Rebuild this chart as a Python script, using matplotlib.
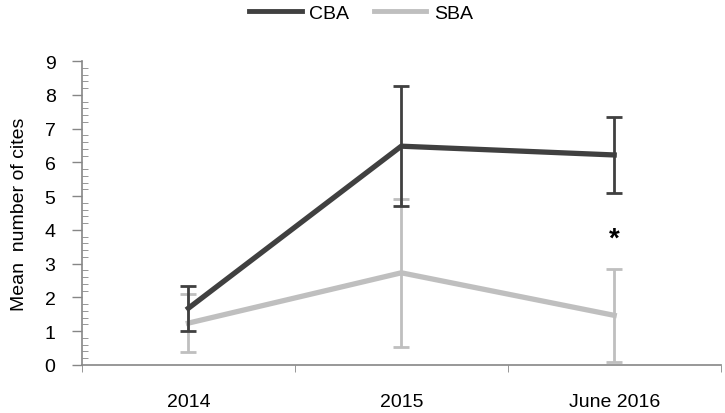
import numpy as np
import matplotlib.pyplot as plt
from matplotlib.ticker import MultipleLocator, FixedLocator
from matplotlib.lines import Line2D

plt.rcParams['font.family'] = ['Liberation Sans', 'DejaVu Sans']

categories = ['2014', '2015', 'June 2016']
cba_mean = [1.68, 6.48, 6.22]
cba_err = [0.66, 1.77, 1.13]
sba_mean = [1.24, 2.73, 1.47]
sba_err = [0.85, 2.2, 1.38]
star_y = 3.75

dark = '#404040'
light = '#bfbfbf'
axis_grey = '#868686'
fs = 14

x = np.arange(len(categories))

fig = plt.figure(figsize=(7.25, 4.14), dpi=100)
ax = fig.add_axes([0.113, 0.116, 0.881, 0.734])

ax.errorbar(x, sba_mean, yerr=sba_err, color=light, lw=3.8, elinewidth=2,
            capsize=6, capthick=2, zorder=2)
ax.errorbar(x, cba_mean, yerr=cba_err, color=dark, lw=3.8, elinewidth=2,
            capsize=6, capthick=2, zorder=3)

ax.text(x[2], star_y, '*', ha='center', va='center', fontsize=20, fontweight='bold')

ax.set_xlim(-0.5, 2.5)
ax.set_ylim(0, 9)
ax.set_xticks(x)
ax.set_xticklabels(categories, fontsize=fs)
ax.xaxis.set_minor_locator(FixedLocator([-0.5, 0.5, 1.5, 2.5]))
ax.tick_params(axis='x', which='major', length=0, pad=20)
ax.tick_params(axis='x', which='minor', length=5, direction='out', color=axis_grey)

ax.yaxis.set_major_locator(MultipleLocator(1))
ax.yaxis.set_minor_locator(MultipleLocator(0.2))
ax.tick_params(axis='y', which='major', length=7, direction='out', color=axis_grey,
               labelsize=fs, pad=12, width=1)
ax.tick_params(axis='y', which='minor', length=4, direction='in', color=axis_grey)

for side in ['top', 'right']:
    ax.spines[side].set_visible(False)
for side in ['left', 'bottom']:
    ax.spines[side].set_color(axis_grey)
    ax.spines[side].set_linewidth(1.2)

ax.set_ylabel('Mean  number of cites', fontsize=fs, labelpad=12)

leg_handles = [Line2D([], [], color=dark, lw=3.5), Line2D([], [], color=light, lw=3.5)]
fig.legend(leg_handles, ['CBA', 'SBA'], loc='upper center', bbox_to_anchor=(0.498, 1.03),
           ncol=2, frameon=False, fontsize=fs, handlelength=2.7, handletextpad=0.4,
           columnspacing=1.25)

fig.savefig('out.png', dpi=100)
